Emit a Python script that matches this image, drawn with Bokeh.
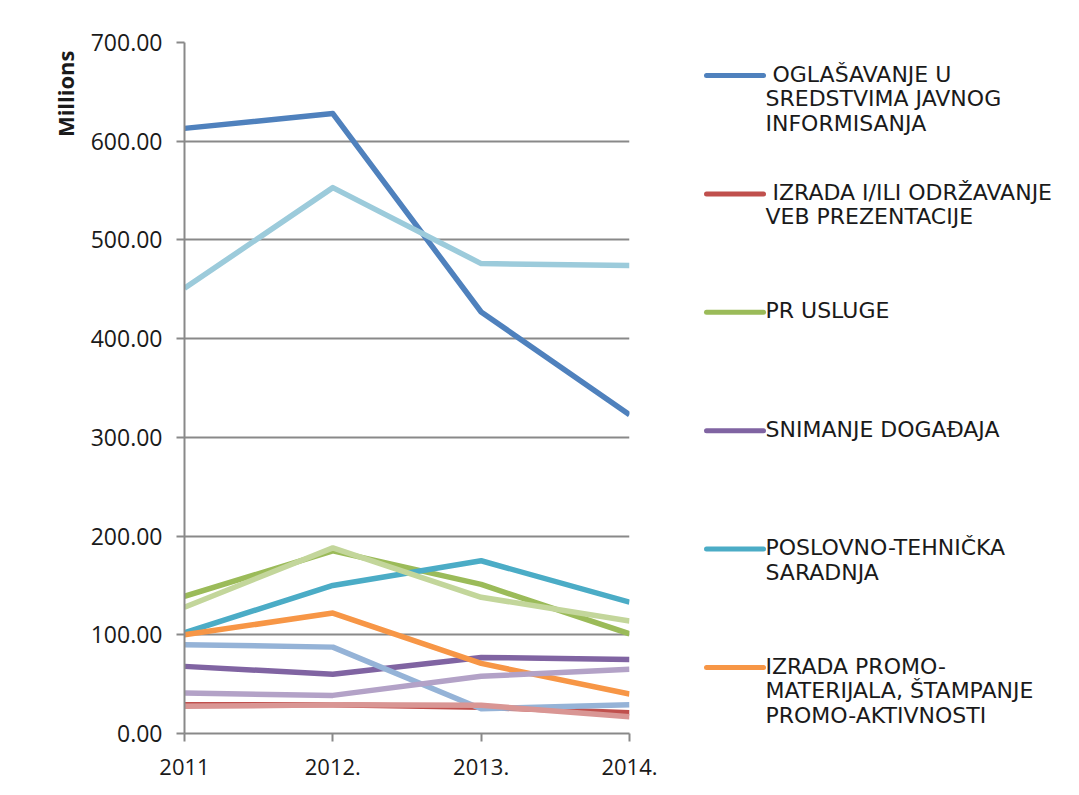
from bokeh.plotting import figure
from bokeh.layouts import row
from bokeh.models import Range1d, FixedTicker, NumeralTickFormatter, Title
from bokeh.core.properties import value
from bokeh.embed import file_html
from bokeh.resources import INLINE

# ---- data ----
years = ["2011", "2012.", "2013.", "2014."]
x_pos = [0, 1, 2, 3]

legend_names = [
    "\u00a0OGLAŠAVANJE U\nSREDSTVIMA JAVNOG\nINFORMISANJA",
    "\u00a0IZRADA I/ILI ODRŽAVANJE\nVEB PREZENTACIJE",
    "PR USLUGE",
    "SNIMANJE DOGAĐAJA",
    "POSLOVNO-TEHNIČKA\nSARADNJA",
    "IZRADA PROMO-\nMATERIJALA, ŠTAMPANJE\nPROMO-AKTIVNOSTI",
]

oglasavanje = [613, 628, 427, 323]
veb = [29, 29, 26.5, 21]
pr_usluge = [139, 185, 151, 101]
snimanje = [68, 60, 77, 75]
poslovno = [102, 150, 175, 133]
promo = [100, 122, 71, 40]
series7 = [90, 87.5, 25, 29]
series8 = [27.5, 29, 28.5, 17]
series9 = [128, 188, 138, 114]
series10 = [41, 38.6, 58, 65]
series11 = [451, 553, 476, 474]

series = [oglasavanje, veb, pr_usluge, snimanje, poslovno, promo,
          series7, series8, series9, series10, series11]
colors = ["#4F81BD", "#C0504D", "#9BBB59", "#8064A2", "#4BACC6", "#F79646",
          "#95B3D7", "#D99694", "#C3D69B", "#B3A2C7", "#9CCBDB"]

y_ticks = [0, 100, 200, 300, 400, 500, 600, 700]

FONT = "Open Sans"
LFONT = "DejaVu Sans"
GRID = "#898989"
TXT = "#1a1a1a"

TOP, BOTTOM = 42, 55

# ---- main chart ----
p = figure(width=669, height=788, output_backend="svg", toolbar_location=None,
           x_range=Range1d(0, 3), y_range=Range1d(0, 700),
           min_border_left=184, min_border_right=40, min_border_top=TOP,
           min_border_bottom=BOTTOM)
p.outline_line_color = None

for vals, c in zip(series, colors):
    p.line(x_pos, vals, line_width=5.5, line_color=c, line_join="round", line_cap="butt")

p.xaxis.ticker = FixedTicker(ticks=x_pos)
p.xaxis.major_label_overrides = {i: y for i, y in zip(x_pos, years)}
p.yaxis.ticker = FixedTicker(ticks=y_ticks)
p.yaxis.formatter = NumeralTickFormatter(format="0.00")

for ax in (p.xaxis[0], p.yaxis[0]):
    ax.axis_line_color = GRID
    ax.axis_line_width = 2
    ax.major_tick_line_color = GRID
    ax.major_tick_line_width = 2
    ax.major_tick_out = 8
    ax.major_tick_in = 0
    ax.minor_tick_line_color = None
    ax.major_label_text_font = FONT
    ax.major_label_text_color = TXT

p.yaxis.major_label_text_font_size = "23px"
p.xaxis.major_label_text_font_size = "22px"
p.yaxis.major_label_standoff = 14
p.xaxis.major_label_standoff = 17

p.xgrid.grid_line_color = None
p.ygrid.grid_line_color = GRID
p.ygrid.grid_line_width = 2
p.ygrid.ticker = FixedTicker(ticks=y_ticks)

p.add_layout(Title(text="Millions", align="right", offset=8, standoff=15,
                   text_font=FONT, text_font_size="22px",
                   text_font_style="bold", text_color=TXT), "left")

# ---- legend panel ----
lw = 402
lg = figure(width=lw, height=788, output_backend="svg", toolbar_location=None,
            x_range=Range1d(0, lw), y_range=Range1d(733, 42),
            min_border_left=0, min_border_right=0,
            min_border_top=TOP, min_border_bottom=BOTTOM,
            x_axis_type=None, y_axis_type=None)
lg.outline_line_color = None
lg.xgrid.visible = False
lg.ygrid.visible = False

y0, step = 75, 118.4
ys = [y0 + i * step for i in range(len(legend_names))]
lg.segment(x0=[37] * len(ys), x1=[94] * len(ys), y0=ys, y1=ys,
           line_width=5, line_color=colors[:6], line_cap="round")
lg.text(x=[96] * len(ys), y=[y - 14 for y in ys], text=legend_names,
        text_font=value(LFONT), text_font_size="22px", text_baseline="top",
        text_align="left", text_line_height=0.98, text_color=TXT)

layout = row(p, lg)
open("out.html", "w").write(file_html(layout, INLINE))
